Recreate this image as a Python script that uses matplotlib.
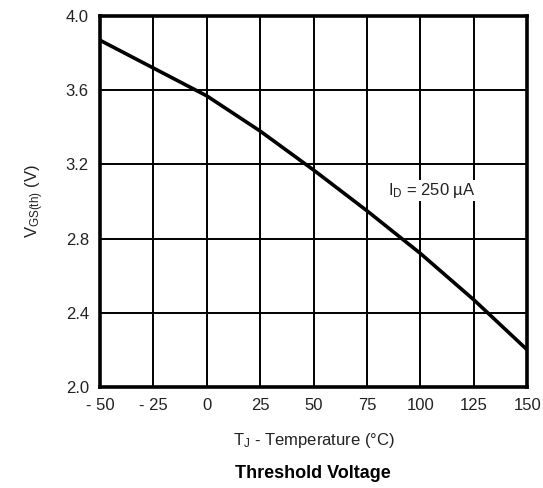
import matplotlib
matplotlib.use('Agg')
import matplotlib.pyplot as plt

# junction temperature (C) and threshold voltage (V)
temp = [-50, -25, 0, 25, 50, 75, 100, 125, 150]
vgs_th = [3.87, 3.72, 3.57, 3.38, 3.17, 2.95, 2.72, 2.47, 2.20]

xticks = [-50, -25, 0, 25, 50, 75, 100, 125, 150]
xtick_labels = ['- 50', '- 25', '0', '25', '50', '75', '100', '125', '150']
yticks = [2.0, 2.4, 2.8, 3.2, 3.6, 4.0]

plt.rc('font', family=['Liberation Sans', 'DejaVu Sans'])
plt.rc('mathtext', fontset='custom', rm='Liberation Sans', it='Liberation Sans')

fig = plt.figure(figsize=(5.43, 4.88), dpi=100)
ax = fig.add_axes([0.184, 0.207, 0.787, 0.760])

ax.plot(temp, vgs_th, color='k', lw=2.6, solid_capstyle='butt')

ax.set_xlim(-50, 150)
ax.set_ylim(2.0, 4.0)
ax.set_xticks(xticks)
ax.set_xticklabels(xtick_labels)
ax.set_yticks(yticks)
ax.set_yticklabels(['%.1f' % v for v in yticks])
ax.grid(True, color='k', lw=1.4)
ax.tick_params(axis='both', length=0, labelsize=12, colors='#222222')
ax.tick_params(axis='x', pad=8)
ax.tick_params(axis='y', pad=8)
for s in ax.spines.values():
    s.set_linewidth(2.6)

ax.text(105.5, 3.06, r'$\mathregular{I_D}$ = 250 µA', ha='center', va='center',
        fontsize=12, color='#222222',
        bbox=dict(facecolor='white', edgecolor='none', pad=1))

ax.set_xlabel(r'$\mathregular{T_J}$ - Temperature (°C)', fontsize=12, color='#222222', labelpad=13)
ax.set_ylabel(r'$\mathregular{V_{GS(th)}}$ (V)', fontsize=12, color='#222222', labelpad=14)
fig.text(0.577, 0.03, 'Threshold Voltage', ha='center', va='center',
         fontsize=13, weight='bold')

fig.savefig('out.png', dpi=100)
